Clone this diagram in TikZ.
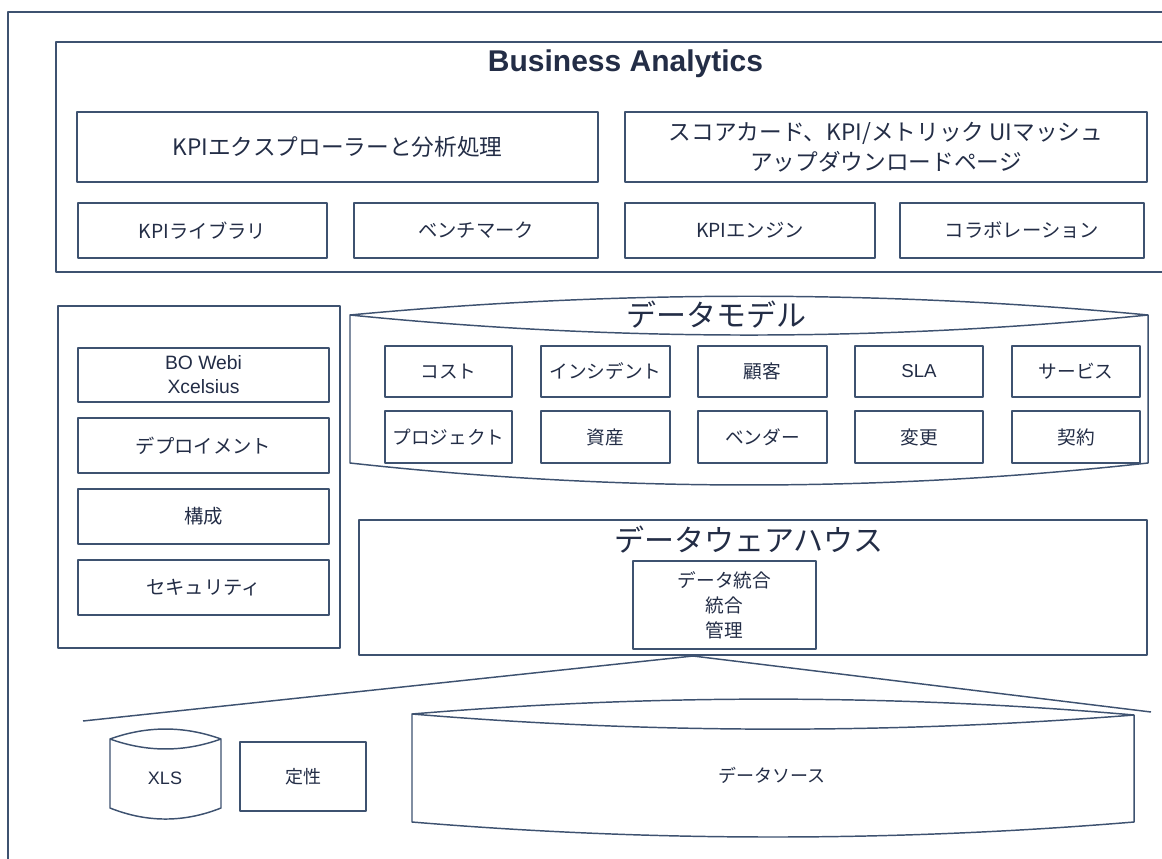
\documentclass[tikz,border=0pt]{standalone}
\usepackage{fontspec}
\setmainfont{Noto Sans CJK JP}
\newfontfamily\latinfont{Liberation Sans}
\definecolor{linecol}{RGB}{62,82,112}
\definecolor{textcol}{RGB}{35,45,70}
\tikzset{
	outline/.style={draw=linecol, line width=1.1pt, line join=round},
	box/.style 2 args={outline, rectangle, minimum width=#1*0.75pt, minimum height=#2*0.75pt, inner sep=0pt, text=textcol, align=center},
	txt/.style={text=textcol, inner sep=0pt, align=center},
	huge/.style={font=\fontsize{22.5}{26}\selectfont},
	big/.style={font=\fontsize{17}{22.5}\selectfont},
	mid/.style={font=\fontsize{14.5}{18}\selectfont},
	sml/.style={font=\fontsize{14}{18.75}\selectfont},
}
\begin{document}
\begin{tikzpicture}[x=0.75pt, y=-0.75pt]
	\useasboundingbox (0,0) rectangle (1162,859);

	% outer frame
	\draw[outline] (8,880) -- (8,12) -- (1180,12);

	% Business Analytics
	\draw[outline] (1180,42) -- (56,42) -- (56,272) -- (1180,272);
	\node[txt, font=\latinfont\bfseries\fontsize{22.5}{26}\selectfont] (ba) at (625.5,64) {Business Analytics};

	\node[box={521}{70}, big] (explorer) at (337.5,147) {KPIエクスプローラーと分析処理};
	\node[box={522}{70}, big] (scorecard) at (886,147) {スコアカード、KPI/メトリック UIマッシュ\\アップダウンロードページ};

	\node[box={249}{55}, mid] (library)  at (202.5,230.5) {KPIライブラリ};
	\node[box={244}{55}, mid] (bench)    at (476,230.5)   {ベンチマーク};
	\node[box={250}{55}, mid] (engine)   at (750,230.5)   {KPIエンジン};
	\node[box={244}{55}, mid] (collab)   at (1022,230.5)  {コラボレーション};

	% left panel
	\node[box={282}{342}] (tools) at (199,477) {};
	\node[box={251}{54}, mid, font=\latinfont\fontsize{14.5}{18}\selectfont] (bo) at (203.5,375) {BO Webi\\Xcelsius};
	\node[box={251}{55}, mid] (deploy) at (203.5,445.5) {デプロイメント};
	\node[box={251}{55}, mid] (config) at (203.5,516.5) {構成};
	\node[box={251}{55}, mid] (secure) at (203.5,587.5) {セキュリティ};

	% data model
	\draw[outline] (350,315) .. controls (616,290) and (882,290) .. (1148,315)
		.. controls (882,341.7) and (616,341.7) .. (350,315) -- (350,463)
		.. controls (616,492.3) and (882,492.3) .. (1148,463) -- (1148,315);
	\node[txt, huge] (model) at (716,315) {データモデル};

	\node[box={127}{51}, sml] (cost)     at (448.5,371.5)  {コスト};
	\node[box={129}{51}, sml] (incident) at (605.5,371.5)  {インシデント};
	\node[box={129}{51}, sml] (customer) at (762.5,371.5)  {顧客};
	\node[box={128}{51}, sml] (sla)      at (919,371.5)    {\latinfont SLA};
	\node[box={128}{51}, sml] (service)  at (1076,371.5)   {サービス};
	\node[box={127}{52}, sml] (project)  at (448.5,437)    {プロジェクト};
	\node[box={129}{52}, sml] (asset)    at (605.5,437)    {資産};
	\node[box={129}{52}, sml] (vendor)   at (762.5,437)    {ベンダー};
	\node[box={128}{52}, sml] (change)   at (919,437)      {変更};
	\node[box={128}{52}, sml] (contract) at (1076,437)     {契約};

	% data warehouse
	\node[box={788}{135}] (dw) at (753,587.5) {};
	\node[txt, huge] (dwtitle) at (749,540) {データウェアハウス};
	\node[box={183}{88}, sml, font=\fontsize{14}{18.75}\selectfont] (integ) at (724.5,605) {データ統合\\統合\\管理};

	% funnel
	\coordinate (apex) at (693,656);
	\coordinate (fl) at (83,721);
	\coordinate (fr) at (1151,712);
	\draw[outline] (fl) -- (apex) -- (fr);

	% sources
	\draw[outline] (110,739) .. controls (147,725.7) and (184,725.7) .. (221,739)
		.. controls (184,752.3) and (147,752.3) .. (110,739) -- (110,808)
		.. controls (147,822.7) and (184,822.7) .. (221,808) -- (221,739);
	\node[txt, font=\latinfont\fontsize{13.5}{16}\selectfont] (xls) at (165,778) {XLS};
	\node[box={126}{69}, font=\fontsize{13.5}{16}\selectfont] (qual) at (303,776.5) {定性};

	\draw[outline] (412,714) .. controls (653,694) and (893,694) .. (1134,715)
		.. controls (893,734) and (653,734) .. (412,714) -- (412,822)
		.. controls (653,842) and (893,842) .. (1134,822) -- (1134,715);
	\node[txt, font=\fontsize{13.5}{16}\selectfont] (source) at (772,775) {データソース};
\end{tikzpicture}
\end{document}
